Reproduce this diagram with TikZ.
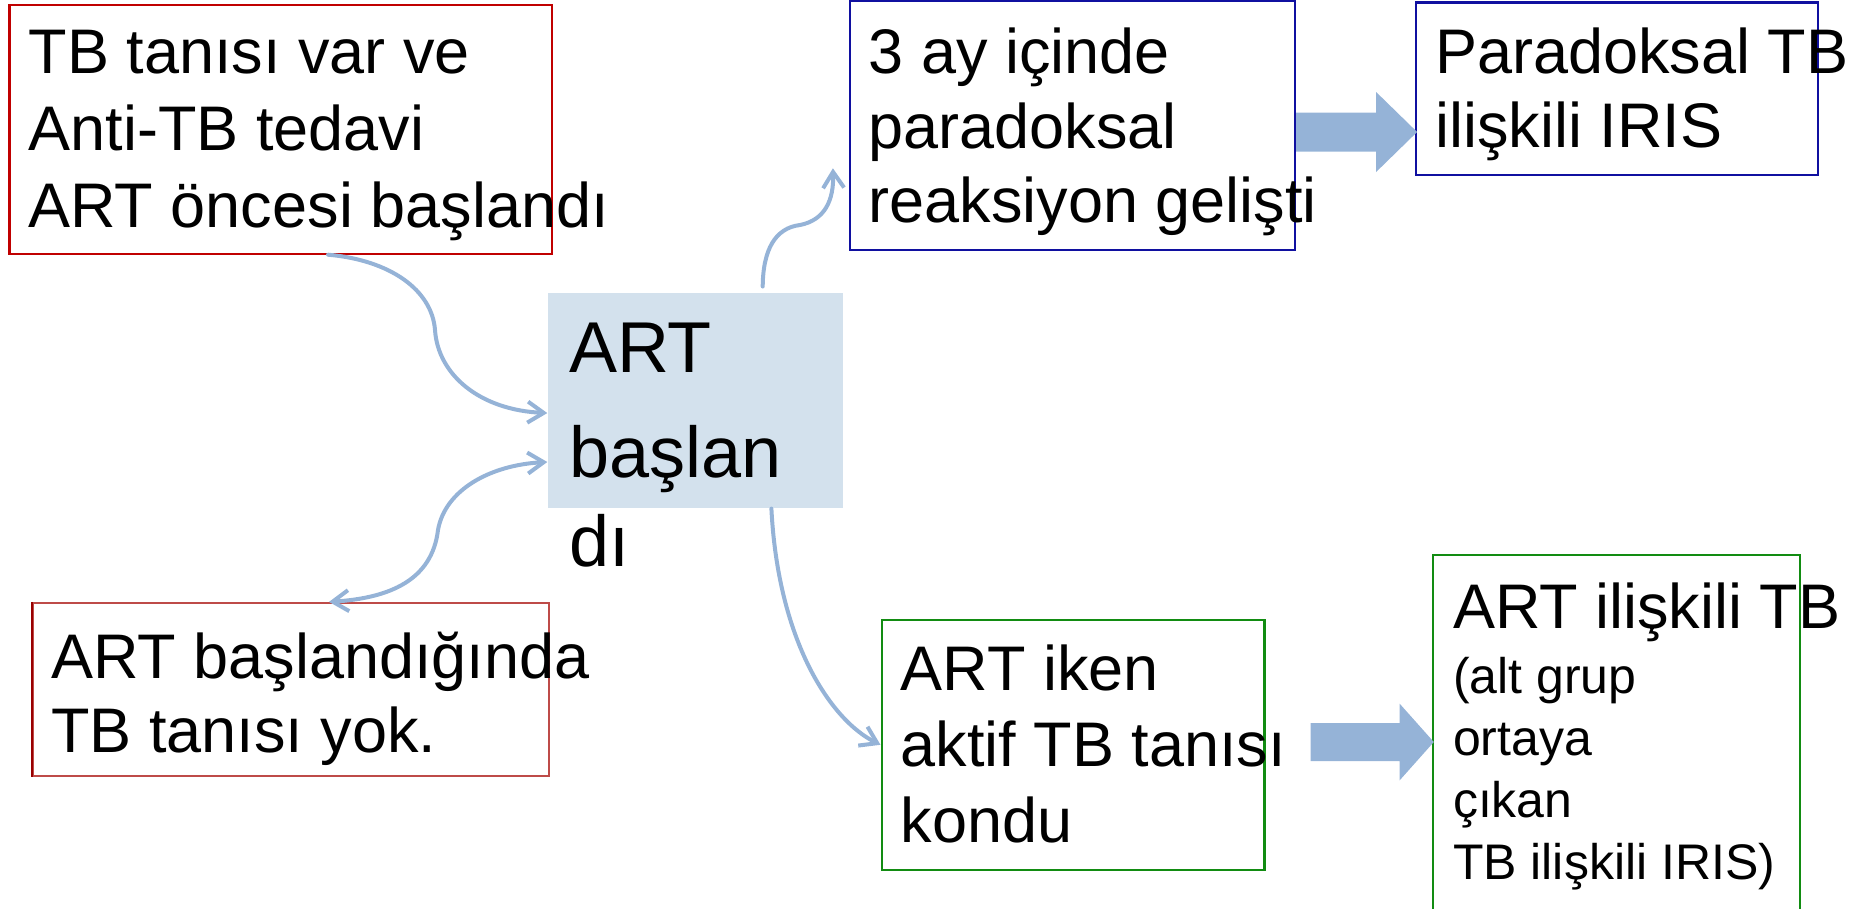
\documentclass[tikz,border=0pt]{standalone}
\usepackage{fontspec}
\setmainfont{Liberation Sans}
\usetikzlibrary{arrows.meta,calc}
\definecolor{linkblue}{HTML}{95B3D7}
\definecolor{hubfill}{HTML}{D3E1ED}
\definecolor{redline}{HTML}{C00000}
\definecolor{softred}{HTML}{BE4B48}
\definecolor{deepred}{HTML}{990000}
\definecolor{navyline}{HTML}{1010A0}
\definecolor{greenline}{HTML}{128C12}
\begin{document}
\begin{tikzpicture}[x=1pt,y=1pt,
  box/.style n args={3}{draw=#1, line width=2.2pt, minimum width=#2, minimum height=#3, inner sep=0pt},
  txt/.style={anchor=base west, inner sep=0pt, align=left},
  big/.style={font=\fontsize{63}{#1}\selectfont},
  smalltxt/.style={anchor=base west, inner sep=0pt, align=left, font=\fontsize{50}{62}\selectfont},
  barb/.tip={Straight Barb[length=16pt,width=21pt]},
  link/.style={draw=linkblue, line width=4pt, line cap=round, -barb},
  blk/.style={fill=linkblue}]
\useasboundingbox (0,0) rectangle (1858,-908);
\clip (0,0) rectangle (1858,-908);

% boxes
\node[box={redline}{542.5pt}{248.9pt}] (b1) at (280.75,-129.15) {};
\node[box={navyline}{445.4pt}{248.8pt}] (ay) at (1072.3,-125.6) {};
\node[box={navyline}{402pt}{172.6pt}] (para) at (1617,-88.7) {};
\node[fill=hubfill, minimum width=295pt, minimum height=215.7pt, inner sep=0pt] (hub) at (695,-400.55) {};
\node[box={softred}{515.5pt}{173pt}] (b2) at (290.95,-689.5) {};
\draw[deepred, line width=2.6pt] (b2.north west) -- (b2.south west);
\node[box={greenline}{382.8pt}{250pt}] (iken) at (1073,-744.8) {};
\node[box={greenline}{367.3pt}{405.4pt}] (iris) at (1616.35,-757.3) {};

% texts (each anchored at the baseline of its last line)
\node[txt, big=77] (b1t) at (28.4,-227.5) {TB tanısı var ve\\Anti-TB tedavi\\ART öncesi başlandı};
\node[txt, big=74.6] (ayt) at (868.6,-222.8) {3 ay içinde\\paradoksal\\reaksiyon gelişti};
\node[txt, big=73.5] (parat) at (1435,-147) {Paradoksal TB\\ilişkili IRIS};
\node[txt, font=\fontsize{72}{89}\selectfont] (hubt) at (569,-566.4) {ART\\[16pt]başlan\\dı};
\node[txt, big=74.5] (b2t) at (51,-752.5) {ART başlandığında\\TB tanısı yok.};
\node[txt, big=75.8] (ikent) at (900.6,-842.5) {ART iken\\aktif TB tanısı\\kondu};
\node[txt, big=76] (irist) at (1452.8,-628) {ART ilişkili TB};
\node[smalltxt] (irist2) at (1452.8,-879.3) {(alt grup\\ortaya\\çıkan\\TB ilişkili IRIS)};

% curved connectors
\draw[link] ([xshift=47.3]b1.south) .. controls (390,-260) and (432,-290) .. (435,-330)
  .. controls (438,-375) and (480,-410) .. ([yshift=-12.5]hub.west);
\draw[link, barb-barb]
  ([yshift=-61.45]hub.west) .. controls (490,-465) and (445,-490) .. (438,-530)
  .. controls (432,-580) and (390,-598) .. ([xshift=38.05]b2.north);
\draw[link] ([xshift=67.7,yshift=6]hub.north) .. controls (763,-250) and (775,-228) .. (800,-225)
  .. controls (825,-220) and (834,-200) .. ([xshift=-15.6,yshift=-42.7]ay.west);
\draw[link] ([xshift=76.4]hub.south) .. controls (778,-640) and (830,-720) .. (iken.west);

% block arrows
\path ([yshift=-6.4]ay.east) coordinate (ba1);
\fill[blk] (ba1) +(0,19.5) -- +(80,19.5) -- +(80,40) -- +(121,0) -- +(80,-40) -- +(80,-19.5) -- +(0,-19.5) -- cycle;
\path ([xshift=45,yshift=2.8]iken.east) coordinate (ba2);
\fill[blk] (ba2) +(0,19) -- +(89,19) -- +(89,38.5) -- +(123.3,0) -- +(89,-38.5) -- +(89,-19) -- +(0,-19) -- cycle;
\end{tikzpicture}
\end{document}
